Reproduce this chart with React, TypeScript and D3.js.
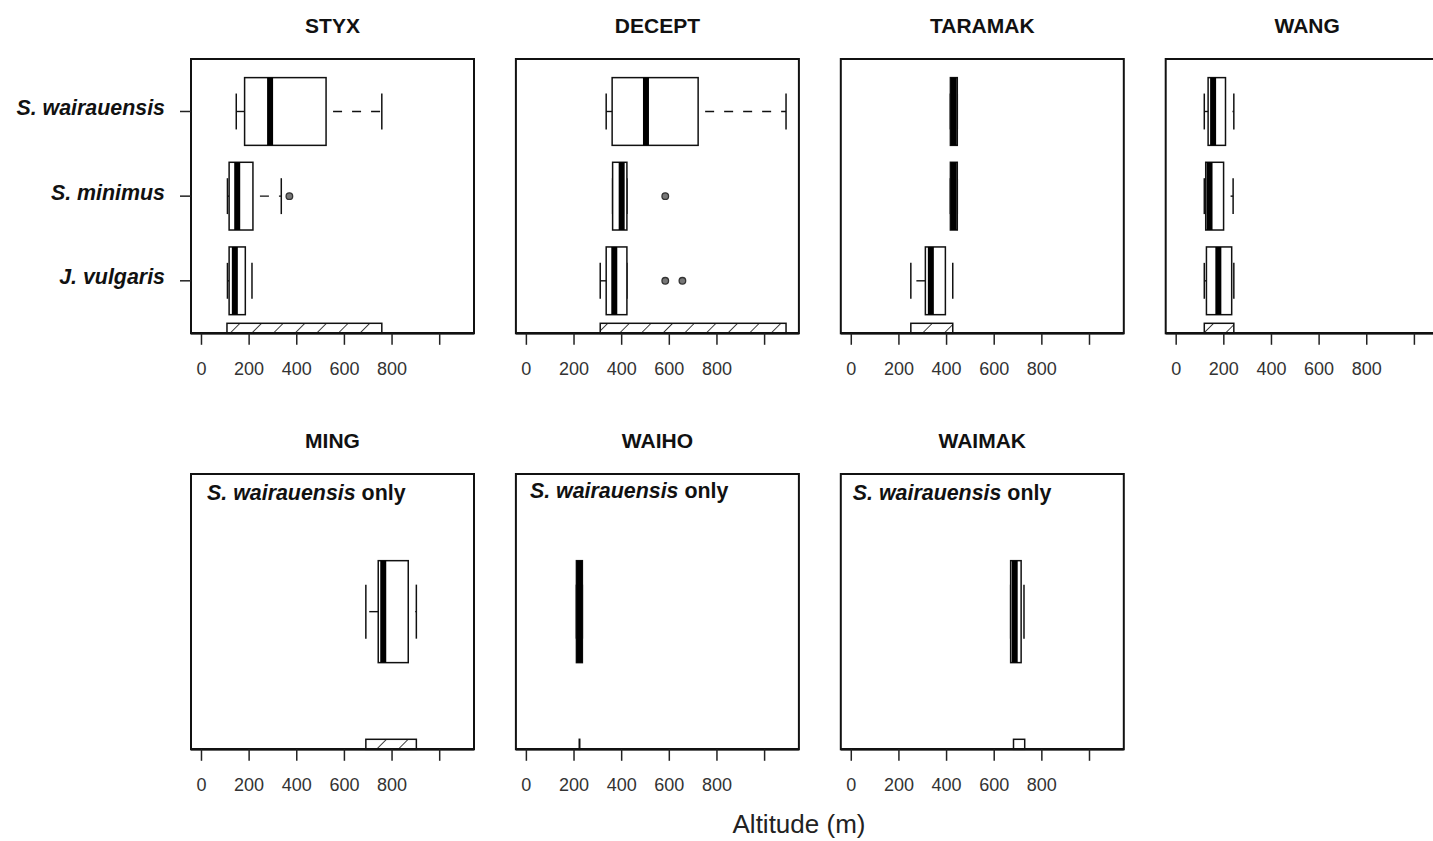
import React from "react";
import * as d3 from "d3";

type Box = { species: string; lo: number; q1: number; med: number; q3: number; hi: number; out: number[] };

// ---- data (altitude, m) ----
const siteNames = ["STYX", "DECEPT", "TARAMAK", "WANG", "MING", "WAIHO", "WAIMAK"];
const speciesNames = ["J. vulgaris", "S. minimus", "S. wairauensis"]; // bottom -> top
const xTicks = [0, 200, 400, 600, 800, 1000];
const xTickLabels = ["0", "200", "400", "600", "800", ""];

const styxBoxes: Box[] = [
  { species: "S. wairauensis", lo: 146, q1: 181, med: 288, q3: 523, hi: 757, out: [] },
  { species: "S. minimus", lo: 109, q1: 116, med: 150, q3: 216, hi: 335, out: [369] },
  { species: "J. vulgaris", lo: 109, q1: 116, med: 140, q3: 184, hi: 212, out: [] },
];
const deceptBoxes: Box[] = [
  { species: "S. wairauensis", lo: 335, q1: 360, med: 502, q3: 721, hi: 1090, out: [] },
  { species: "S. minimus", lo: 362, q1: 362, med: 400, q3: 422, hi: 422, out: [583] },
  { species: "J. vulgaris", lo: 310, q1: 335, med: 369, q3: 422, hi: 422, out: [583, 655] },
];
const taramakBoxes: Box[] = [
  { species: "S. wairauensis", lo: 416, q1: 416, med: 430, q3: 445, hi: 445, out: [] },
  { species: "S. minimus", lo: 416, q1: 416, med: 430, q3: 445, hi: 445, out: [] },
  { species: "J. vulgaris", lo: 250, q1: 311, med: 334, q3: 395, hi: 426, out: [] },
];
const wangBoxes: Box[] = [
  { species: "S. wairauensis", lo: 118, q1: 134, med: 155, q3: 207, hi: 242, out: [] },
  { species: "S. minimus", lo: 118, q1: 124, med: 140, q3: 199, hi: 239, out: [] },
  { species: "J. vulgaris", lo: 118, q1: 127, med: 177, q3: 233, hi: 242, out: [] },
];
const mingBoxes: Box[] = [
  { species: "S. wairauensis", lo: 690, q1: 742, med: 763, q3: 868, hi: 902, out: [] },
];
const waihoBoxes: Box[] = [
  { species: "S. wairauensis", lo: 210, q1: 210, med: 223, q3: 235, hi: 235, out: [] },
];
const waimakBoxes: Box[] = [
  { species: "S. wairauensis", lo: 669, q1: 669, med: 686, q3: 713, hi: 725, out: [] },
];
const siteBoxes: Box[][] = [styxBoxes, deceptBoxes, taramakBoxes, wangBoxes, mingBoxes, waihoBoxes, waimakBoxes];

// overall altitudinal range sampled in each river (hatched bar)
const rangeLow = [107, 310, 250, 118, 690, 222, 681];
const rangeHigh = [757, 1090, 426, 242, 902, 224, 728];

// ---- layout ----
const W = 1433, H = 841;
const colX = [191, 515.9, 840.8, 1165.7, 191, 515.9, 840.8];
const rowOf = [0, 0, 0, 0, 1, 1, 1];
const PW = 283;
const rowTop = [59, 474];
const rowAxis = [333.3, 749.3];
const onlyOffset = [[0, 0], [0, 0], [0, 0], [0, 0], [16, 500], [14, 498], [12, 500]];
const FONT = "'Liberation Sans', Arial, Helvetica, sans-serif";

function Panel({ i }: { i: number }) {
  const row = rowOf[i];
  const left = colX[i];
  const x = d3.scaleLinear().domain([-44, 1144]).range([left, left + PW]);
  const single = row === 1;
  const y = single
    ? d3.scaleLinear().domain([0.46, 1.54]).range([rowAxis[row], rowTop[row]])
    : d3.scaleLinear().domain([0.38, 3.62]).range([rowAxis[row], rowTop[row]]);
  const halfW = 0.4 * Math.abs(y(0) - y(1)) * (single ? 0.5 : 1);
  const staple = halfW * 0.53;
  const boxes = siteBoxes[i];
  const pos = (b: Box) => (single ? 1 : speciesNames.indexOf(b.species) + 1);
  const axisY = rowAxis[row];
  return (
    <g>
      <text x={left + PW / 2} y={rowTop[row] - 26.5} textAnchor="middle" fontFamily={FONT} fontWeight="bold" fontSize={21} fill="#111">
        {siteNames[i]}
      </text>
      {/* range bar */}
      <rect
        x={x(rangeLow[i])}
        y={axisY - 10}
        width={Math.max(0, x(rangeHigh[i]) - x(rangeLow[i]))}
        height={10}
        fill="url(#hatch)"
        stroke="#111"
        strokeWidth={1.5}
      />
      {boxes.map((b, k) => {
        const cy = y(pos(b));
        return (
          <g key={k} stroke="#111" fill="none">
            <line x1={x(b.q3)} x2={x(b.hi)} y1={cy} y2={cy} strokeWidth={1.4} strokeDasharray="9 10" strokeDashoffset={12} />
            <line x1={x(b.q1)} x2={x(b.lo)} y1={cy} y2={cy} strokeWidth={1.4} strokeDasharray="9 10" />
            <line x1={x(b.hi)} x2={x(b.hi)} y1={cy - staple} y2={cy + staple} strokeWidth={1.5} />
            <line x1={x(b.lo)} x2={x(b.lo)} y1={cy - staple} y2={cy + staple} strokeWidth={1.5} />
            <rect x={x(b.q1)} y={cy - halfW} width={x(b.q3) - x(b.q1)} height={2 * halfW} fill="white" strokeWidth={1.5} />
            <line x1={x(b.med)} x2={x(b.med)} y1={cy - halfW} y2={cy + halfW} strokeWidth={6} stroke="#000" />
            {b.out.map((o, m) => (
              <circle key={m} cx={x(o)} cy={cy} r={3.3} fill="#777" stroke="#333" strokeWidth={1.3} />
            ))}
          </g>
        );
      })}
      {/* frame */}
      <rect x={left} y={rowTop[row]} width={PW} height={axisY - rowTop[row]} fill="none" stroke="#111" strokeWidth={2} />
      <line x1={left} x2={left + PW} y1={axisY} y2={axisY} stroke="#111" strokeWidth={2.5} />
      {/* x axis ticks */}
      {xTicks.map((t, k) => (
        <g key={k}>
          <line x1={x(t)} x2={x(t)} y1={axisY} y2={axisY + 11.5} stroke="#222" strokeWidth={1.5} />
          <text x={x(t)} y={axisY + 41.7} textAnchor="middle" fontFamily={FONT} fontSize={18} fill="#333">
            {xTickLabels[k]}
          </text>
        </g>
      ))}
      {/* y axis (first panel only) */}
      {i === 0 &&
        speciesNames.map((s, k) => (
          <g key={s}>
            <line x1={left - 11} x2={left} y1={y(k + 1)} y2={y(k + 1)} stroke="#222" strokeWidth={1.5} />
            <text x={165} y={y(k + 1) + 3.5} textAnchor="end" fontFamily={FONT} fontWeight="bold" fontStyle="italic" fontSize={21.4} fill="#111">
              {s}
            </text>
          </g>
        ))}
      {single && (
        <text x={left + onlyOffset[i][0]} y={onlyOffset[i][1]} fontFamily={FONT} fontWeight="bold" fontSize={21.4} fill="#111">
          <tspan fontStyle="italic">S. wairauensis</tspan>
          <tspan> only</tspan>
        </text>
      )}
    </g>
  );
}

export default function App() {
  return (
    <svg
      width={W}
      height={H}
      viewBox={`0 0 ${W} ${H}`}
      style={{ position: "fixed", left: 0, top: 0, background: "white", display: "block" }}
    >
      <defs>
        <pattern id="hatch" patternUnits="userSpaceOnUse" width={15.3} height={15.3} patternTransform="rotate(45)">
          <rect width={15.3} height={15.3} fill="white" />
          <line x1={0} y1={0} x2={0} y2={15.3} stroke="#111" strokeWidth={1.6} />
        </pattern>
      </defs>
      <rect width={W} height={H} fill="white" />
      {siteNames.map((_, i) => (
        <Panel key={i} i={i} />
      ))}
      <text x={799} y={833} textAnchor="middle" fontFamily={FONT} fontSize={26} fill="#222">
        Altitude (m)
      </text>
    </svg>
  );
}
